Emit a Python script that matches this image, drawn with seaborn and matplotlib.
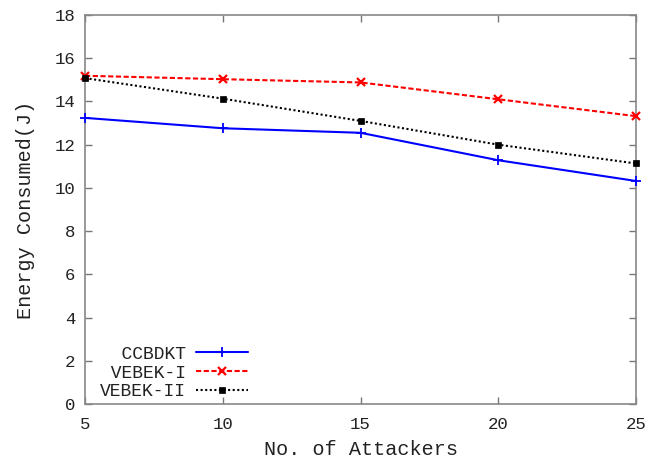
import matplotlib
matplotlib.use("Agg")
import matplotlib.pyplot as plt
import seaborn as sns
import pandas as pd

attackers = [5, 10, 15, 20, 25]
ccbdkt = [13.24, 12.76, 12.55, 11.28, 10.32]
vebek1 = [15.19, 15.03, 14.88, 14.10, 13.32]
vebek2 = [15.08, 14.13, 13.10, 12.00, 11.13]
series_names = ["CCBDKT", "VEBEK-I", "VEBEK-II"]
x_ticks = [5, 10, 15, 20, 25]
y_ticks = [0, 2, 4, 6, 8, 10, 12, 14, 16, 18]

sns.set_theme(style="white")
plt.rcParams['font.family'] = ['Liberation Mono', 'DejaVu Sans Mono']

fig = plt.figure(figsize=(6.51, 4.62), dpi=100)
ax = fig.add_axes([0.1306, 0.1255, 0.977 - 0.1306, 0.9675 - 0.1255])

styles = [
    dict(color="#0000ff", markeredgecolor="#0000ff", linestyle="-", marker="+",
         markersize=7, markeredgewidth=1.3),
    dict(color="#ff0000", markeredgecolor="#ff0000", linestyle=(0, (2.5, 1.2)), marker="x",
         markersize=5.5, markeredgewidth=1.6),
    dict(color="#000000", markeredgecolor="#000000", markerfacecolor="#000000",
         linestyle=(0, (1, 1.2)), marker="s", markersize=5, markeredgewidth=0.5),
]
width = max(len(n) for n in series_names)
for vals, name, st in zip([ccbdkt, vebek1, vebek2], series_names, styles):
    df = pd.DataFrame({"x": attackers, "y": vals})
    sns.lineplot(data=df, x="x", y="y", ax=ax, label=name.rjust(width),
                 linewidth=1.5, clip_on=False, zorder=3, **st)

ax.set_xlim(5, 25)
ax.set_ylim(0, 18)
ax.set_xticks(x_ticks)
ax.set_yticks(y_ticks)
ax.set_xlabel("No. of Attackers", fontsize=14.5, color="#222222", labelpad=6)
ax.set_ylabel("Energy Consumed(J)", fontsize=14.5, color="#222222", labelpad=14)
ax.tick_params(axis="both", direction="in", length=5, width=1, color="#777777",
               labelsize=12.5, labelcolor="#222222", top=True, right=True,
               bottom=True, left=True)
ax.tick_params(axis="x", pad=9)
ax.tick_params(axis="y", pad=7)
for s in ax.spines.values():
    s.set_color("#888888")
    s.set_linewidth(1.2)

leg = ax.legend(loc="lower left", bbox_to_anchor=(0.02, 0.0), frameon=False,
                markerfirst=False, fontsize=13, handlelength=2.85,
                handletextpad=0.6, labelspacing=0.1, borderpad=0.2,
                borderaxespad=0.0)
for t in leg.get_texts():
    t.set_color("#222222")

fig.savefig("out.png", dpi=100)
